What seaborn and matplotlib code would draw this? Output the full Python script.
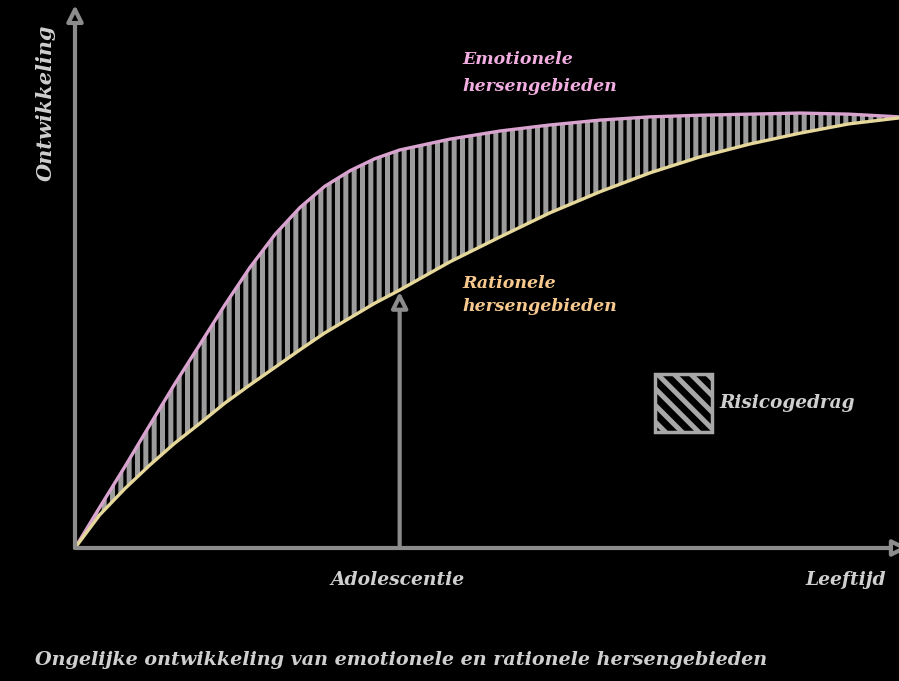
import numpy as np
import pandas as pd
import matplotlib
matplotlib.use("Agg")
import matplotlib.pyplot as plt
import seaborn as sns
from matplotlib.patches import Patch

# leeftijd (0-10 schaal) en ontwikkeling van beide hersengebieden
leeftijd = [0, 0.30, 0.61, 0.91, 1.21, 1.52, 1.82, 2.12, 2.43, 2.73, 3.03, 3.34,
            3.64, 3.94, 4.55, 5.16, 5.76, 6.37, 6.98, 7.58, 8.19, 8.80, 9.39, 10]
emotioneel = [0, 0.75, 1.51, 2.27, 3.02, 3.76, 4.48, 5.16, 5.78, 6.27, 6.66, 6.95,
              7.17, 7.33, 7.53, 7.68, 7.79, 7.88, 7.94, 7.97, 7.99, 8.01, 7.99, 7.94]
rationeel = [0, 0.61, 1.10, 1.53, 1.93, 2.30, 2.67, 3.00, 3.33, 3.65, 3.96, 4.24,
             4.51, 4.75, 5.27, 5.73, 6.17, 6.56, 6.91, 7.20, 7.44, 7.64, 7.81, 7.92]
adolescentie_x = 3.94
adolescentie_y = 4.72

label_emo = "Emotionele\nhersengebieden"
label_rat = "Rationele\nhersengebieden"
label_risk = "Risicogedrag"
xlabel_mid = "Adolescentie"
xlabel_end = "Leeftijd"
ylabel = "Ontwikkeling"
caption = "Ongelijke ontwikkeling van emotionele en rationele hersengebieden"

df = pd.DataFrame({"leeftijd": leeftijd, "emotioneel": emotioneel, "rationeel": rationeel})

sns.set_theme(style="dark", rc={"axes.facecolor": "black", "figure.facecolor": "black",
                                "savefig.facecolor": "black"})
plt.rcParams["font.family"] = ["DejaVu Serif"]
plt.rcParams["hatch.linewidth"] = 3.6

W, H = 899, 681
fig = plt.figure(figsize=(W / 100, H / 100), dpi=100)
ax = fig.add_axes([75 / W, (H - 548) / H, (899 - 75) / W, (548 - 5) / H])
ax.set_xlim(0, 10)
ax.set_ylim(0, 10)
ax.set_xticks([])
ax.set_yticks([])
for s in ax.spines.values():
    s.set_visible(False)

axis_col = "#8c8c8c"
ax.fill_between(df["leeftijd"], df["rationeel"], df["emotioneel"], facecolor="black",
                edgecolor="#9c9c9c", hatch="||", linewidth=0, zorder=1)
sns.lineplot(data=df, x="leeftijd", y="emotioneel", color="#d9a3cf", linewidth=2.4, ax=ax, zorder=3)
sns.lineplot(data=df, x="leeftijd", y="rationeel", color="#e6d89a", linewidth=2.4, ax=ax, zorder=3)
ax.set_xlabel("")
ax.set_ylabel("")

# assen met pijlen
arrow = dict(arrowstyle="-|>,head_length=0.8,head_width=0.4", color=axis_col, lw=3,
             fc="black", shrinkA=0, shrinkB=0)
ax.annotate("", xy=(0, 1.0), xytext=(0, 0), xycoords="axes fraction",
            arrowprops=arrow, annotation_clip=False, zorder=5)
ax.annotate("", xy=(1.012, 0), xytext=(0, 0), xycoords="axes fraction",
            arrowprops=arrow, annotation_clip=False, zorder=5)
ax.annotate("", xy=(adolescentie_x, adolescentie_y), xytext=(adolescentie_x, 0),
            arrowprops=arrow, annotation_clip=False, zorder=5)

txt = dict(fontweight="bold", fontstyle="italic")
fig.text(462 / W, 1 - 73 / H, label_emo, color="#f2aee0", ha="left", va="center",
         linespacing=1.7, fontsize=12.5, **txt)
fig.text(462 / W, 1 - 295 / H, label_rat, color="#f7c98f", ha="left", va="center",
         linespacing=1.5, fontsize=12.5, **txt)
fig.text(398 / W, 1 - 580 / H, xlabel_mid, color="#cfcfcf", ha="center", va="center",
         fontsize=13.5, **txt)
fig.text(886 / W, 1 - 580 / H, xlabel_end, color="#cfcfcf", ha="right", va="center",
         fontsize=13.5, **txt)
fig.text(46 / W, 1 - 103 / H, ylabel, color="#cfcfcf", ha="center", va="center",
         rotation=90, fontsize=15, **txt)
fig.text(35 / W, 1 - 660 / H, caption, color="#cfcfcf", ha="left", va="center",
         fontsize=13.8, **txt)

leg = ax.legend(handles=[Patch(facecolor="black", edgecolor="#a8a8a8", hatch="\\\\",
                               linewidth=2.5)],
                labels=[label_risk], loc="center left",
                bbox_to_anchor=(646 / W, 1 - 403 / H), bbox_transform=fig.transFigure,
                frameon=False, borderpad=0, handlelength=3.05, handleheight=4.4,
                handletextpad=0.4,
                prop={"family": "DejaVu Serif", "size": 13.3, "weight": "bold",
                      "style": "italic"})
for t in leg.get_texts():
    t.set_color("#cfcfcf")

fig.savefig("out.png", dpi=100, facecolor="black")
